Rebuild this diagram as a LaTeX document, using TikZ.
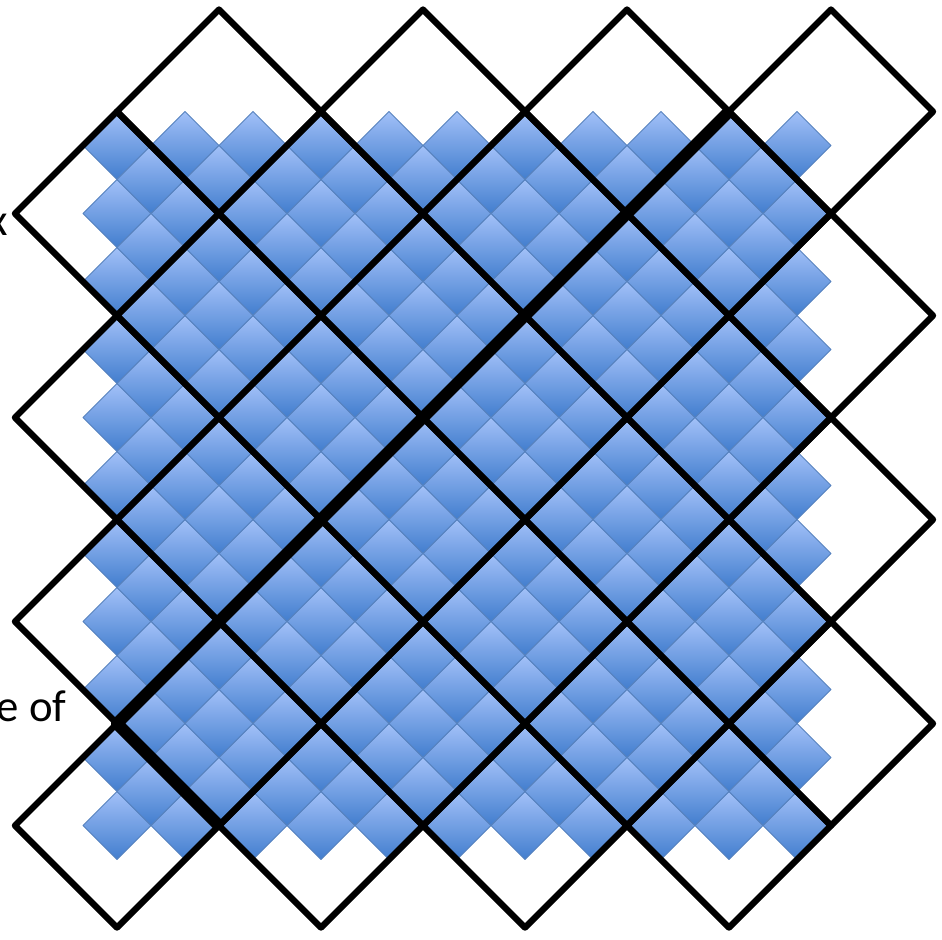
\documentclass[tikz,border=0pt]{standalone}
\usepackage{fontspec}
\setmainfont{Carlito}
\usetikzlibrary{calc}
\definecolor{tiletop}{RGB}{162,192,248}
\definecolor{tilebot}{RGB}{66,126,206}
\definecolor{tileedge}{RGB}{86,130,190}

\begin{document}
\begin{tikzpicture}[x=0.68cm,y=-0.68cm,line join=round,
  chip/.style={top color=tiletop,bottom color=tilebot,draw=tileedge,line width=0.5pt},
  cellbox/.style={draw=black,line width=3.6pt},
  diagline/.style={draw=black,line width=6.8pt},
  word/.style={anchor=base east,inner sep=0pt,font=\fontsize{25.5}{30}\selectfont}]
\useasboundingbox (-0.44,-0.28) rectangle (27.265,27.35);
% small tiles
\foreach \q in {4,6,...,24}{
  \foreach \p in {3,5,...,23}{
    \path[chip] (\p-1,\q) -- (\p,\q-1) -- (\p+1,\q) -- (\p,\q+1) -- cycle;}}
\foreach \q in {5,7,...,23}{
  \foreach \p in {4,6,...,22}{
    \path[chip] (\p-1,\q) -- (\p,\q-1) -- (\p+1,\q) -- (\p,\q+1) -- cycle;}}
% big cells
\foreach \a in {0,...,7}{
  \foreach \b in {0,...,7}{
    \pgfmathtruncatemacro{\odd}{mod(\a+\b,2)}
    \ifnum\odd=1
      \draw[cellbox] ({3*\a},{3*\b+3}) -- ({3*\a+3},{3*\b}) -- ({3*\a+6},{3*\b+3}) -- ({3*\a+3},{3*\b+6}) -- cycle;
    \fi}}
% heavy path
\coordinate (S) at (6,24);
\coordinate (K) at (3,21);
\coordinate (E) at (21,3);
\draw[diagline] (S) -- (K) -- (E);
% cut text
\node[word] (xfrag) at (-0.2,6.65) {x};
\node[word] (tail) at (1.53,20.94) {e of};
\end{tikzpicture}
\end{document}
